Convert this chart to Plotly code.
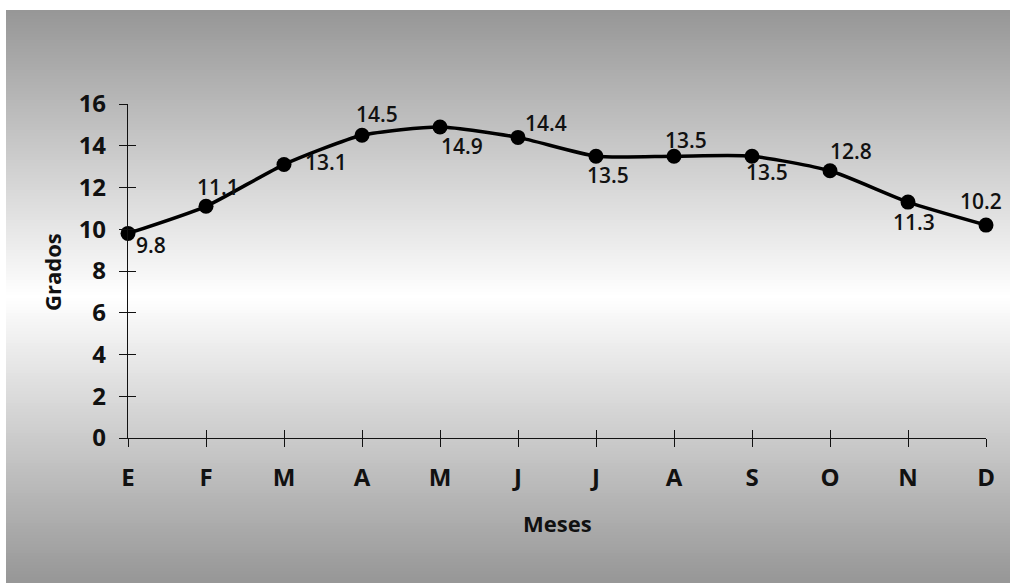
import plotly.graph_objects as go

# Temperatura media mensual
months = ["E", "F", "M", "A", "M", "J", "J", "A", "S", "O", "N", "D"]
temps = [9.8, 11.1, 13.1, 14.5, 14.9, 14.4, 13.5, 13.5, 13.5, 12.8, 11.3, 10.2]
y_ticks = [0, 2, 4, 6, 8, 10, 12, 14, 16]

# pixel nudges for each value label (dx, dy) relative to its marker
label_nudge = [(23, -12), (12, 19), (42, 3), (15, 21), (22, -19), (28, 14),
               (12, -19), (12, 16), (15, -16), (21, 20), (6, -20), (-5, 24)]

W, H = 1010, 583
L, R, T, B = 128, 24, 104, 145
PW, PH = W - L - R, H - T - B

FONT = "Open Sans"
INK = "#111111"
x_idx = list(range(len(months)))

fig = go.Figure()

fig.add_trace(go.Scatter(
    x=x_idx, y=temps, mode="lines+markers",
    line=dict(color="black", width=3.5, shape="spline", smoothing=0.6),
    marker=dict(color="black", size=15),
    cliponaxis=False, hoverinfo="skip", showlegend=False,
))
# helper trace so the overlaid axes (inner half of the crossing ticks) render
fig.add_trace(go.Scatter(x=[0], y=[0], mode="none", xaxis="x2", yaxis="y2",
                         hoverinfo="skip", showlegend=False))

# value labels
for i, (v, (dx, dy)) in enumerate(zip(temps, label_nudge)):
    fig.add_annotation(x=i, y=v, text=f"{v}", showarrow=False,
                       xshift=dx, yshift=dy, xanchor="center", yanchor="middle",
                       font=dict(family=FONT, size=21, color=INK, weight=600))

# vertical grey-white-grey background panel
def px_to_paper_x(px):
    return (px - L) / PW

def px_to_paper_y(py):
    return (H - B - py) / PH

shapes = []
top, bottom, left = 10, H, 6
mid = (top + bottom) / 2
step = 3
py = top
while py < bottom:
    c = py + step / 2
    frac = abs(c - mid) / (mid - top)
    g = int(round(255 - 105 * frac))
    shapes.append(dict(
        type="rect", xref="paper", yref="paper", layer="below",
        x0=px_to_paper_x(left), x1=px_to_paper_x(W + 2),
        y0=px_to_paper_y(py), y1=px_to_paper_y(min(py + step + 0.6, bottom)),
        fillcolor=f"rgb({g},{g},{g})", line=dict(width=0),
    ))
    py += step

axis_common = dict(showgrid=False, zeroline=False, linecolor=INK, tickcolor=INK,
                   linewidth=1.2, tickwidth=1.2, ticklen=8)

fig.update_layout(
    width=W, height=H,
    margin=dict(l=L, r=R, t=T, b=B),
    paper_bgcolor="white", plot_bgcolor="rgba(0,0,0,0)",
    shapes=shapes,
    xaxis=dict(range=[0, len(months) - 1], tickvals=x_idx, ticktext=months,
               showline=True, ticks="outside", ticklabelstandoff=10,
               tickfont=dict(family=FONT, size=24, color=INK, weight="bold"),
               **axis_common),
    yaxis=dict(range=[0, 16], tickvals=y_ticks, showline=True, ticks="outside",
               ticklabelstandoff=8,
               tickfont=dict(family=FONT, size=24, color=INK, weight="bold"),
               **axis_common),
    xaxis2=dict(range=[0, len(months) - 1], tickvals=x_idx, overlaying="x",
                anchor="y2", side="bottom", showline=False, ticks="inside",
                showticklabels=False, **axis_common),
    yaxis2=dict(range=[0, 16], tickvals=y_ticks, overlaying="y", anchor="x2",
                side="left", showline=False, ticks="inside",
                showticklabels=False, **axis_common),
    annotations=list(fig.layout.annotations) + [
        dict(text="Grados", xref="paper", yref="paper", showarrow=False,
             x=px_to_paper_x(52), y=px_to_paper_y(272), textangle=-90,
             xanchor="center", yanchor="middle",
             font=dict(family=FONT, size=22, color=INK, weight="bold")),
        dict(text="Meses", xref="paper", yref="paper", showarrow=False,
             x=px_to_paper_x(557), y=px_to_paper_y(523),
             xanchor="center", yanchor="middle",
             font=dict(family=FONT, size=22, color=INK, weight="bold")),
    ],
)

fig.write_html("out.html")
